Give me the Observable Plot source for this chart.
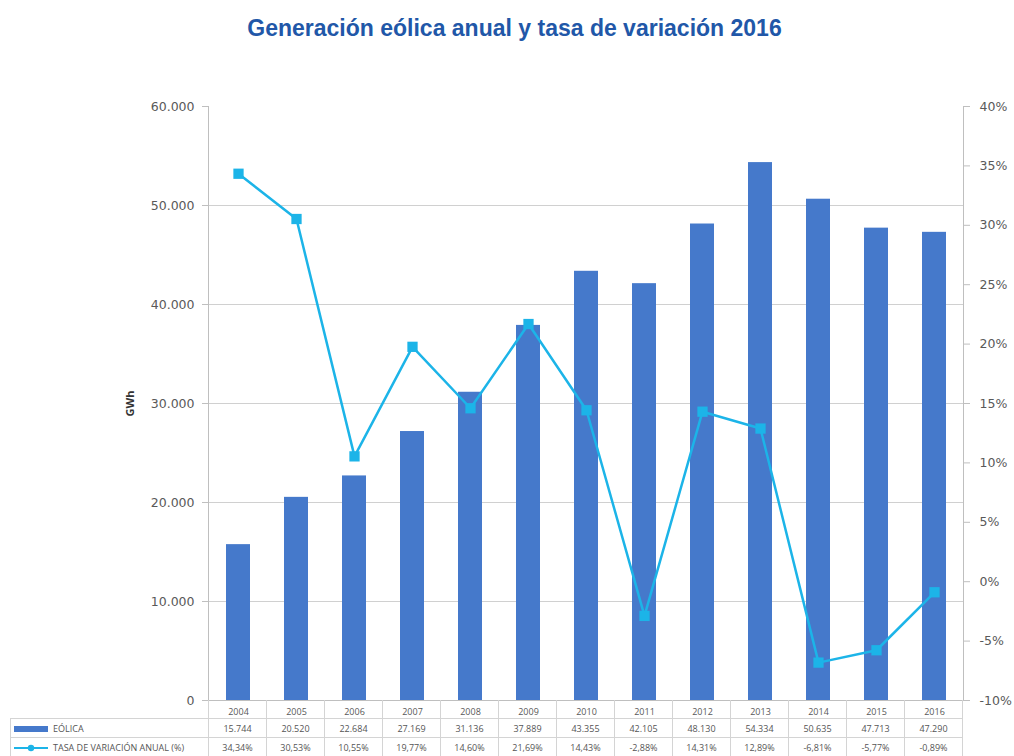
<!DOCTYPE html>
<html>
<head>
<meta charset="utf-8">
<script src="https://cdn.jsdelivr.net/npm/d3@7"></script>
<script src="https://cdn.jsdelivr.net/npm/@observablehq/plot@0.6"></script>
<style>
  body { margin: 0; background: #fff; }
  #wrap { position: relative; width: 1014px; height: 756px; overflow: hidden; background: #fff; }
  #title { height: 60px; text-align: center; padding-left: 15px; box-sizing: border-box;
           font: bold 23px "Liberation Sans", Arial, sans-serif; line-height: 56px; color: #2157a8; }
  #tbl { position: absolute; top: 700px; left: 10px; border-collapse: collapse; table-layout: fixed;
         font: 9px "Open Sans", sans-serif; color: #555; }
  #tbl td { border: 1px solid #d4d4d4; height: 18px; padding: 0; text-align: center; white-space: nowrap; overflow: hidden; }
  #tbl td.lab { text-align: left; padding-left: 3px; }
  #tbl tr.yr td { border-top: none; }
  #tbl tr.yr td.blank { border: none; }
  .sw { vertical-align: middle; margin-right: 3px; }
</style>
</head>
<body>
<div id="wrap">
  <div id="title">Generación eólica anual y tasa de variación 2016</div>
  <div id="chart"></div>
</div>
<script>
// ---- data ----
const years = [2004, 2005, 2006, 2007, 2008, 2009, 2010, 2011, 2012, 2013, 2014, 2015, 2016];
const eolica = [15744, 20520, 22684, 27169, 31136, 37889, 43355, 42105, 48130, 54334, 50635, 47713, 47290];
const tasa = [34.34, 30.53, 10.55, 19.77, 14.60, 21.69, 14.43, -2.88, 14.31, 12.89, -6.81, -5.77, -0.89];
const gwhTicks = [0, 10000, 20000, 30000, 40000, 50000, 60000];
const pctTicks = [-10, -5, 0, 5, 10, 15, 20, 25, 30, 35, 40];
const seriesNames = ["EÓLICA", "TASA DE VARIACIÓN ANUAL (%)"];

const data = years.map((y, i) => ({year: y, eolica: eolica[i], tasa: tasa[i]}));

// secondary axis mapping: pct domain [-10, 40] onto GWh domain [0, 60000]
const pMin = -10, pMax = 40, gMax = 60000;
const toY = p => (p - pMin) / (pMax - pMin) * gMax;
const fromY = v => v / gMax * (pMax - pMin) + pMin;

const loc = d3.formatLocale({decimal: ",", thousands: ".", grouping: [3], currency: ["", ""], minus: "-"});
const fmtInt = loc.format(",");
const fmtPct = loc.format(".2f");

const barColor = "#4579cb";
const lineColor = "#1cb4e8";

const chart = Plot.plot({
  width: 1014,
  height: 696,
  marginTop: 46,
  marginBottom: 56,
  marginLeft: 208,
  marginRight: 51,
  style: {fontFamily: "'DejaVu Sans', sans-serif", fontSize: "12px", color: "#595959", background: "white"},
  x: {type: "band", domain: years, padding: 0},
  y: {domain: [0, gMax]},
  marks: [
    Plot.gridY(gwhTicks.filter(d => d > 0 && d < gMax), {stroke: "#d0d0d0", strokeOpacity: 1}),
    Plot.barY(data, {x: "year", y: "eolica", fill: barColor, insetLeft: 17, insetRight: 17}),
    Plot.frame({anchor: "left", stroke: "#bfbfbf"}),
    Plot.frame({anchor: "right", stroke: "#bfbfbf"}),
    Plot.ruleY([0], {stroke: "#bfbfbf"}),
    Plot.lineY(data, {x: "year", y: d => toY(d.tasa), stroke: lineColor, strokeWidth: 2.5}),
    Plot.dot(data, {x: "year", y: d => toY(d.tasa), symbol: "square", r: 5.8, fill: lineColor, stroke: "none"}),
    Plot.axisY({anchor: "left", ticks: gwhTicks, tickFormat: d => fmtInt(d), tickSize: 6, tickPadding: 8,
                stroke: "#bfbfbf", label: "GWh", labelAnchor: "center", labelArrow: "none", labelOffset: 82,
                fontSize: 12.5}),
    Plot.axisY({anchor: "right", ticks: pctTicks.map(toY), tickFormat: v => Math.round(fromY(v)) + "%",
                tickSize: 6, tickPadding: 10, stroke: "#bfbfbf", label: null, fontSize: 12.5}),
    Plot.axisX({anchor: "bottom", tickSize: 0, tickPadding: 8, fontSize: 9, fontFamily: "'Open Sans', sans-serif",
                label: null, tickFormat: d => String(d)})
  ]
});
document.getElementById("chart").appendChild(chart);

// style the GWh label bold and darker
chart.querySelectorAll("text").forEach(t => {
  if (t.textContent === "GWh") {
    t.setAttribute("font-weight", "bold"); t.setAttribute("fill", "#333");
    t.setAttribute("font-size", "11"); t.setAttribute("font-family", "'Open Sans', sans-serif");
  }
});

// ---- data table below the chart, aligned to the band scale ----
const xs = chart.scale("x");
const step = xs.step;
const left0 = 10;
const firstW = 208 - left0;
const tbl = document.createElement("table");
tbl.id = "tbl";
const cg = document.createElement("colgroup");
[firstW, ...years.map(() => step)].forEach(w => { const c = document.createElement("col"); c.style.width = w + "px"; cg.appendChild(c); });
tbl.appendChild(cg);

function row(cls, labelHtml, cells) {
  const tr = document.createElement("tr");
  if (cls) tr.className = cls;
  const td0 = document.createElement("td");
  if (labelHtml == null) td0.className = "blank"; else { td0.className = "lab"; td0.innerHTML = labelHtml; }
  tr.appendChild(td0);
  cells.forEach(c => { const td = document.createElement("td"); td.textContent = c; tr.appendChild(td); });
  tbl.appendChild(tr);
}
const barSw = `<svg class="sw" width="36" height="8"><rect x="0" y="1" width="34" height="6" fill="${barColor}"/></svg>`;
const lineSw = `<svg class="sw" width="36" height="8"><line x1="0" y1="4" x2="34" y2="4" stroke="${lineColor}" stroke-width="2"/><circle cx="17" cy="4" r="3.2" fill="${lineColor}"/></svg>`;
row("yr", null, years.map(() => ""));
row("", barSw + seriesNames[0], eolica.map(v => fmtInt(v)));
row("", lineSw + seriesNames[1], tasa.map(v => fmtPct(v) + "%"));
document.getElementById("wrap").appendChild(tbl);
</script>
</body>
</html>
